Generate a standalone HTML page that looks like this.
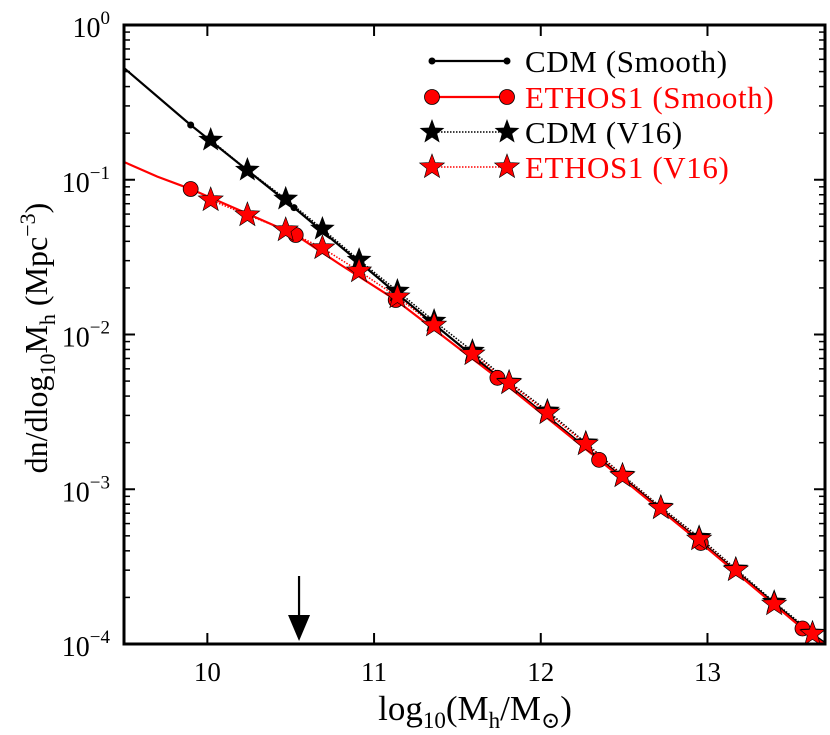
<!DOCTYPE html>
<html><head><meta charset="utf-8"><style>
body{margin:0;background:#fff;}
svg text{font-family:"Liberation Serif","DejaVu Serif",serif;}
</style></head><body>
<svg id="chart" width="830" height="730" xmlns="http://www.w3.org/2000/svg">
<g id="marks"></g>
<g id="axes"></g>
<g id="legend"></g>
</svg>
<script>
const xTicks=[10,11,12,13];
const xTickLabels=["10","11","12","13"];
const yDecades=[0,-1,-2,-3,-4];
const yTickLabels=["0","\u22121","\u22122","\u22123","\u22124"];
// log10 halo mass and log10 dn/dlogM
const cdmSmoothX=[9.5,9.9,10.52,11.13,11.74,12.35,12.96,13.57,13.7];
const cdmSmoothY=[-0.278,-0.646,-1.18,-1.73,-2.27,-2.80,-3.34,-3.89,-3.99];
const cdmDotX=[9.9,10.52,11.13,11.74,12.35,12.96,13.57];
const cdmDotY=[-0.646,-1.18,-1.73,-2.27,-2.80,-3.34,-3.89];
const ethSmoothX=[9.5,9.7,9.9,10.2,10.53,10.8,11.13,11.74,12.35,12.96,13.57,13.7];
const ethSmoothY=[-0.885,-0.98,-1.06,-1.2,-1.357,-1.55,-1.777,-2.28,-2.81,-3.347,-3.90,-4.0];
const ethDotX=[9.9,10.53,11.13,11.74,12.35,12.96,13.57];
const ethDotY=[-1.06,-1.357,-1.777,-2.28,-2.81,-3.347,-3.90];
const v16X=[10.02,10.24,10.47,10.69,10.91,11.14,11.36,11.59,11.81,12.04,12.27,12.49,12.72,12.95,13.17,13.40,13.63];
const cdmV16Y=[-0.743,-0.937,-1.124,-1.318,-1.519,-1.719,-1.913,-2.107,-2.307,-2.494,-2.70,-2.908,-3.115,-3.31,-3.515,-3.729,-3.929];
const ethV16Y=[-1.131,-1.228,-1.325,-1.441,-1.59,-1.758,-1.94,-2.126,-2.313,-2.507,-2.708,-2.914,-3.121,-3.322,-3.522,-3.742,-3.935];
const arrowX=10.55;

const L=124,R=825,T=25,B=644,XMIN=9.5,XMAX=13.705,YMAX=0,YMIN=-4;
const sx=v=>L+(v-XMIN)/(XMAX-XMIN)*(R-L);
const sy=v=>T+(YMAX-v)/(YMAX-YMIN)*(B-T);
const NS="http://www.w3.org/2000/svg";
function mk(tag,attrs,parent){const e=document.createElementNS(NS,tag);for(const k in attrs)e.setAttribute(k,attrs[k]);parent.appendChild(e);return e;}
const marks=document.getElementById('marks'),axes=document.getElementById('axes'),legend=document.getElementById('legend');
const clip=mk('clipPath',{id:'pc'},document.getElementById('chart'));mk('rect',{x:L,y:T,width:R-L,height:B-T},clip);
marks.setAttribute('clip-path','url(#pc)');
function starPts(cx,cy,r){let p=[];for(let i=0;i<10;i++){const a=-Math.PI/2+i*Math.PI/5;const rr=i%2?r*0.42:r;p.push((cx+rr*Math.cos(a)).toFixed(1)+","+(cy+rr*Math.sin(a)).toFixed(1));}return p.join(" ");}
function line(xs,ys,attrs,name){const el=mk('polyline',Object.assign({points:xs.map((x,i)=>sx(x)+","+sy(ys[i])).join(" "),fill:"none"},attrs),marks);

}
line(v16X,cdmV16Y,{stroke:"#000","stroke-width":1.5,"stroke-dasharray":"1.5,1.5"},'cdm-v16-line');
line(v16X,ethV16Y,{stroke:"red","stroke-width":1.5,"stroke-dasharray":"1.5,1.5"},'ethos1-v16-line');
line(cdmSmoothX,cdmSmoothY,{stroke:"#000","stroke-width":2.2},'cdm-smooth-line');
line(ethSmoothX,ethSmoothY,{stroke:"red","stroke-width":2.2},'ethos1-smooth-line');
cdmDotX.forEach((x,i)=>{const c=mk('circle',{cx:sx(x),cy:sy(cdmDotY[i]),r:3.5,fill:"#000"},marks);

});
ethDotX.forEach((x,i)=>{const c=mk('circle',{cx:sx(x),cy:sy(ethDotY[i]),r:7.5,fill:"red",stroke:"#000","stroke-width":0.8},marks);

});
v16X.forEach((x,i)=>{const s=mk('polygon',{points:starPts(sx(x),sy(cdmV16Y[i]),13),fill:"#000"},marks);

});
v16X.forEach((x,i)=>{const s=mk('polygon',{points:starPts(sx(x),sy(ethV16Y[i]),13),fill:"red",stroke:"#000","stroke-width":0.6},marks);

});
// arrow
const ax=sx(arrowX);
const ash=mk('line',{x1:ax,y1:576,x2:ax,y2:618,stroke:"#000","stroke-width":2.2},axes);


const ah=mk('polygon',{points:`${ax-11},615 ${ax+11},615 ${ax},641`,fill:"#000"},axes);


// frame
const fr=mk('rect',{x:L,y:T,width:R-L,height:B-T,fill:"none",stroke:"#000","stroke-width":3},axes);


xTicks.forEach((v,i)=>{const x=sx(v);
mk('line',{x1:x,y1:B,x2:x,y2:B-11,stroke:"#000","stroke-width":2},axes);
mk('line',{x1:x,y1:T,x2:x,y2:T+11,stroke:"#000","stroke-width":2},axes);
const t=mk('text',{x:x,y:B+37,"font-size":27,"text-anchor":"middle"},axes);t.textContent=xTickLabels[i];

});
yDecades.forEach((d,i)=>{const y=sy(d);
mk('line',{x1:L,y1:y,x2:L+11,y2:y,stroke:"#000","stroke-width":2},axes);
mk('line',{x1:R,y1:y,x2:R-11,y2:y,stroke:"#000","stroke-width":2},axes);
if(d>YMIN){for(let m=2;m<10;m++){const yy=sy(d-1+Math.log10(m));
mk('line',{x1:L,y1:yy,x2:L+6,y2:yy,stroke:"#000","stroke-width":1.5},axes);
mk('line',{x1:R,y1:yy,x2:R-6,y2:yy,stroke:"#000","stroke-width":1.5},axes);}}
const t=mk('text',{x:L-14,y:y+12,"font-size":28,"text-anchor":"end"},axes);
const a=mk('tspan',{},t);a.textContent="10";
const b=mk('tspan',{dy:-13,"font-size":19},t);b.textContent=yTickLabels[i];

});
// axis titles
const xt=mk('text',{x:475,y:720,"font-size":35,"text-anchor":"middle"},axes);
xt.innerHTML='log<tspan font-size="23" dy="8">10</tspan><tspan dy="-8">(M</tspan><tspan font-size="23" dy="8">h</tspan><tspan dy="-8">/M</tspan><tspan font-size="23" dy="8">\u2299</tspan><tspan dy="-8">)</tspan>';


const yt=mk('text',{x:0,y:0,"font-size":32,"text-anchor":"middle",transform:"translate(47,338) rotate(-90)"},axes);
yt.innerHTML='dn/dlog<tspan font-size="22" dy="8">10</tspan><tspan dy="-8">M</tspan><tspan font-size="22" dy="8">h</tspan><tspan dy="-8"> (Mpc</tspan><tspan font-size="22" dy="-12">\u22123</tspan><tspan dy="12">)</tspan>';


// legend
const legRows=[{y:61,c:"#000",t:"CDM (Smooth)",m:"dot",dash:null},{y:97,c:"red",t:"ETHOS1 (Smooth)",m:"circle",dash:null},{y:132,c:"#000",t:"CDM (V16)",m:"star",dash:"1.5,1.5"},{y:167,c:"red",t:"ETHOS1 (V16)",m:"star",dash:"1.5,1.5"}];
legRows.forEach(r=>{const g=mk('g',{},legend);


const la={x1:432,y1:r.y,x2:507,y2:r.y,stroke:r.c,"stroke-width":r.dash?1.5:2.2};if(r.dash)la["stroke-dasharray"]=r.dash;mk('line',la,g);
[432,507].forEach(x=>{if(r.m==="dot")mk('circle',{cx:x,cy:r.y,r:3.5,fill:r.c},g);
else if(r.m==="circle")mk('circle',{cx:x,cy:r.y,r:7.5,fill:r.c,stroke:"#000","stroke-width":0.8},g);
else mk('polygon',{points:starPts(x,r.y,13),fill:r.c,stroke:"#000","stroke-width":r.c==="red"?0.6:0},g);});
const t=mk('text',{x:525,y:r.y+11,"font-size":31,fill:r.c,"letter-spacing":"0.6"},g);t.textContent=r.t;});
</script>
</body></html>
